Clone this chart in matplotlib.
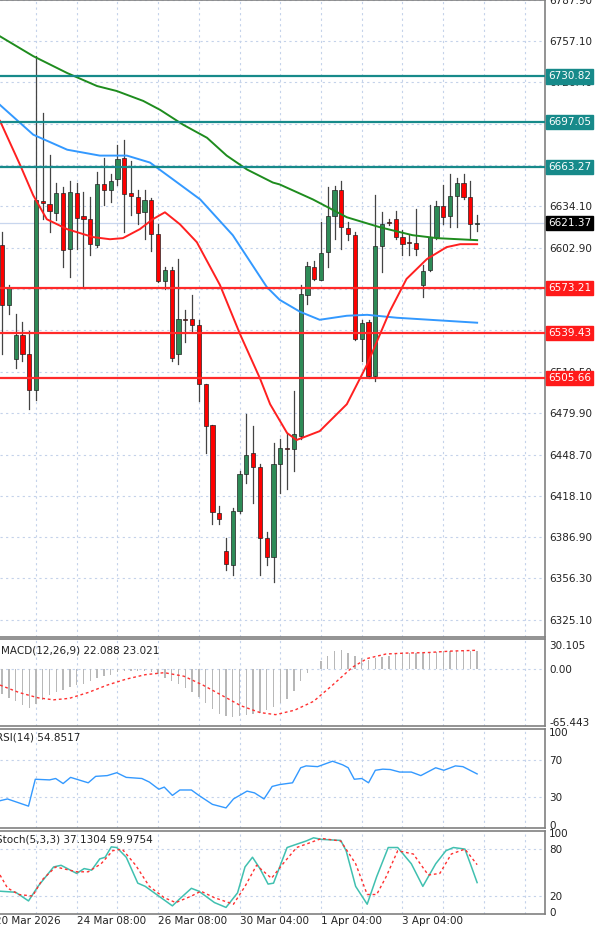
import numpy as np
import matplotlib
matplotlib.use("Agg")
import matplotlib.pyplot as plt
from matplotlib.transforms import blended_transform_factory

# ---------------------------------------------------------------------------
# DATA
# ---------------------------------------------------------------------------
opens = [6605.0, 6560.5, 6519.7, 6538.2, 6524.1, 6496.7, 6637.6, 6635.4, 6628.7, 6643.6,
         6602.0, 6643.6, 6626.5, 6624.3, 6605.0, 6650.3, 6646.5, 6654.7, 6670.3, 6643.6,
         6640.6, 6629.5, 6638.4, 6613.2, 6578.3, 6586.4, 6523.4, 6550.1, 6550.1, 6545.6,
         6501.1, 6470.7, 6405.4, 6376.5, 6366.1, 6406.9, 6434.3, 6449.9, 6439.5, 6386.8,
         6372.0, 6441.8, 6453.6, 6452.9, 6462.5, 6567.9, 6588.7, 6579.0, 6599.8, 6626.5,
         6645.8, 6617.6, 6612.4, 6535.2, 6547.9, 6507.0, 6604.3, 6622.1, 6624.3, 6610.9,
         6607.2, 6606.5, 6575.3, 6586.4, 6610.9, 6633.9, 6626.5, 6641.3, 6651.7, 6640.6,
         6620.6]
closes = [6560.5, 6573.8, 6538.2, 6523.4, 6496.7, 6638.4, 6636.2, 6630.2, 6643.6, 6601.3,
          6644.3, 6625.0, 6624.3, 6605.7, 6650.3, 6646.5, 6653.2, 6669.5, 6642.8, 6641.3,
          6628.7, 6638.4, 6613.2, 6578.3, 6586.4, 6521.1, 6550.1, 6549.3, 6545.6, 6501.1,
          6469.9, 6406.1, 6400.9, 6366.8, 6406.9, 6434.3, 6448.4, 6439.5, 6386.8, 6372.0,
          6441.8, 6453.6, 6452.9, 6464.0, 6568.6, 6589.4, 6579.8, 6599.1, 6626.5, 6645.8,
          6618.3, 6613.2, 6535.2, 6547.1, 6507.0, 6604.3, 6620.6, 6621.3, 6610.9, 6605.7,
          6606.5, 6602.0, 6585.7, 6610.9, 6633.9, 6625.8, 6641.3, 6651.7, 6640.6, 6620.6,
          6621.4]
highs = [6614.6, 6575.3, 6553.8, 6547.9, 6541.2, 6746.0, 6703.7, 6672.5, 6651.7, 6648.0,
         6652.5, 6651.7, 6644.3, 6640.6, 6659.2, 6670.3, 6657.7, 6679.9, 6683.6, 6668.1,
         6645.8, 6645.8, 6639.9, 6620.6, 6588.7, 6588.7, 6594.6, 6556.8, 6567.9, 6549.3,
         6501.1, 6470.7, 6410.6, 6386.1, 6409.1, 6436.6, 6478.9, 6469.9, 6441.8, 6391.3,
         6457.3, 6460.3, 6464.0, 6495.9, 6575.3, 6592.4, 6593.1, 6622.1, 6648.0, 6648.8,
         6652.5, 6622.1, 6614.6, 6549.3, 6549.3, 6642.1, 6629.5, 6624.3, 6630.2, 6616.1,
         6612.4, 6631.7, 6590.2, 6634.7, 6637.6, 6649.5, 6658.4, 6655.4, 6657.7, 6653.2,
         6627.3]
lows = [6523.4, 6553.8, 6513.0, 6518.2, 6482.6, 6489.2, 6624.3, 6614.6, 6623.5, 6588.7,
        6581.2, 6602.0, 6573.1, 6597.6, 6603.5, 6634.7, 6636.9, 6649.5, 6614.6, 6627.3,
        6620.6, 6609.4, 6600.5, 6577.5, 6572.3, 6518.9, 6516.0, 6533.0, 6540.4, 6488.5,
        6449.9, 6397.2, 6397.2, 6362.4, 6358.6, 6405.4, 6427.7, 6412.8, 6358.6, 6366.1,
        6353.5, 6420.2, 6423.2, 6436.6, 6460.3, 6561.2, 6579.0, 6579.0, 6588.7, 6609.4,
        6602.0, 6608.7, 6534.5, 6518.2, 6505.6, 6503.3, 6585.0, 6619.8, 6609.4, 6597.6,
        6597.6, 6597.6, 6566.4, 6585.7, 6609.4, 6620.6, 6618.3, 6618.3, 6639.1, 6609.4,
        6615.4]

# moving averages (bar position, price)
ma_red_x = [-0.3, 2.7, 4.6, 6.6, 9.6, 13.4, 15.9, 17.8, 20.3, 22.2, 24.0, 26.2, 28.7, 32.1,
            35.1, 38.0, 39.5, 42.0, 43.4, 44.9, 46.8, 50.8, 53.8, 57.1, 59.6, 62.6, 65.5, 67.5, 70.0]
ma_red_y = [6697.7, 6664.4, 6642.1, 6624.3, 6616.9, 6611.0, 6609.4, 6610.2, 6616.9, 6624.3,
            6629.5, 6620.6, 6607.2, 6575.3, 6538.2, 6505.6, 6486.3, 6464.8, 6459.6, 6462.5,
            6466.2, 6486.3, 6516.0, 6555.3, 6579.8, 6594.6, 6603.5, 6605.7, 6605.7]
ma_blue_x = [-0.3, 4.6, 9.6, 14.4, 18.4, 21.8, 25.2, 29.2, 34.0, 39.0, 40.9, 43.9, 46.8,
             50.8, 53.8, 58.2, 63.0, 70.0]
ma_blue_y = [6709.6, 6687.4, 6676.2, 6671.8, 6671.8, 6666.6, 6654.0, 6639.1, 6612.4, 6573.8,
             6564.2, 6555.3, 6549.3, 6552.3, 6553.0, 6550.8, 6549.3, 6547.1]
ma_green_x = [-0.3, 4.6, 9.6, 14.0, 16.9, 20.8, 23.3, 26.7, 30.2, 33.1, 36.1, 39.9, 40.9,
              45.8, 50.8, 55.7, 60.5, 64.1, 70.0]
ma_green_y = [6760.8, 6746.0, 6733.4, 6723.7, 6720.0, 6712.6, 6705.9, 6694.8, 6685.1, 6671.8,
              6661.4, 6651.7, 6650.3, 6639.1, 6625.8, 6618.3, 6612.4, 6610.2, 6608.7]

resistance = [6730.82, 6697.05, 6663.27]
support = [6573.21, 6539.43, 6505.66]
last_price = 6621.37
price_ticks = [6787.90, 6757.10, 6726.40, 6695.60, 6664.90, 6634.10, 6602.90, 6572.30,
               6541.70, 6510.50, 6479.90, 6448.70, 6418.10, 6386.90, 6356.30, 6325.10]

macd_hist = [-31.2, -36.0, -40.4, -44.8, -48.4, -43.3, -38.5, -33.0, -28.6, -26.4,
             -22.8, -20.6, -18.4, -15.4, -11.7, -9.5, -7.3, -4.4, -2.9, -2.2,
             -2.2, -2.9, -3.7, -5.9, -11.0, -14.7, -19.1, -24.2, -29.4, -34.9,
             -42.2, -49.5, -55.8, -58.7, -59.5, -58.7, -57.3, -55.8, -54.3, -51.4,
             -47.7, -42.2, -37.4, -27.5, -14.7, -5.5, 0.0, 9.2, 16.5, 22.0,
             23.9, 20.2, 16.5, 12.8, 11.0, 12.8, 14.7, 16.5, 18.4, 18.4,
             19.1, 19.1, 20.2, 20.2, 21.3, 22.0, 22.0, 22.0, 22.0, 22.0, 22.1]
macd_sig_x = [-0.3, 2.5, 5.3, 7.6, 9.9, 12.7, 15.5, 18.3, 21.1, 23.9, 26.8, 29.6, 32.4,
              35.2, 38.0, 40.3, 43.1, 45.9, 48.7, 51.6, 53.8, 56.6, 59.5, 62.8, 66.2, 70.0]
macd_sig_y = [-20.2, -29.4, -36.0, -38.5, -36.7, -29.4, -20.2, -12.8, -7.3, -4.8, -9.2,
              -20.2, -33.0, -45.9, -54.3, -56.9, -51.4, -40.4, -20.2, 1.8, 12.8, 18.4,
              19.5, 20.2, 22.0, 23.0]

rsi_x = [-0.3, 0.8, 3.9, 4.9, 7.0, 7.9, 9.0, 10.1, 12.7, 13.8, 15.5, 16.9, 18.3, 20.6, 21.7,
         23.1, 23.9, 25.1, 26.2, 27.9, 29.0, 31.0, 33.0, 34.1, 36.1, 37.2, 38.6, 39.8, 40.9,
         42.8, 44.0, 44.8, 46.5, 48.7, 50.2, 51.0, 51.9, 53.0, 54.0, 55.0, 56.1, 57.2, 58.6,
         60.3, 61.7, 63.9, 65.1, 66.8, 67.9, 70.0]
rsi_y = [26.2, 28.1, 20.4, 49.2, 48.5, 50.0, 44.6, 51.2, 45.4, 52.3, 53.1, 56.2, 51.2, 50.0,
         46.2, 38.5, 40.8, 31.9, 37.7, 37.7, 31.9, 22.3, 18.5, 28.1, 36.5, 34.6, 28.1, 41.5,
         43.5, 45.4, 61.5, 63.5, 62.7, 68.5, 64.6, 61.5, 49.2, 50.0, 45.4, 58.8, 60.0, 59.6,
         56.9, 56.9, 53.1, 61.5, 58.8, 63.5, 62.7, 54.9]

stoch_k_x = [-0.3, 2.0, 3.9, 5.3, 7.6, 8.7, 11.0, 12.1, 13.2, 14.4, 15.2, 16.1, 16.9, 18.3,
             20.0, 21.1, 25.1, 26.2, 27.9, 29.0, 31.3, 33.0, 34.7, 35.8, 36.9, 38.0, 39.2,
             40.0, 42.0, 43.4, 44.8, 45.9, 47.1, 49.9, 50.7, 52.1, 53.8, 55.2, 56.9, 58.3,
             60.3, 62.0, 63.9, 65.4, 66.5, 68.2, 69.0, 70.0]
stoch_k_y = [26.1, 24.8, 13.7, 32.3, 57.1, 59.2, 48.8, 55.0, 53.0, 67.4, 69.5, 82.7, 81.9,
             69.5, 36.4, 32.3, 7.4, 16.5, 29.8, 26.1, 11.6, 5.4, 24.0, 57.1, 69.5, 55.0, 35.2,
             36.4, 81.9, 86.1, 90.2, 94.3, 92.3, 91.0, 77.8, 32.3, 9.5, 44.7, 81.9, 81.9,
             61.2, 32.3, 61.2, 77.8, 81.9, 79.9, 61.2, 37.1]
stoch_d_x = [-0.3, 0.8, 2.5, 4.5, 5.9, 7.9, 11.0, 12.7, 14.6, 16.3, 17.7, 19.7, 21.7, 23.9,
             25.6, 27.9, 29.3, 31.3, 34.1, 35.8, 37.5, 39.7, 41.4, 43.4, 45.4, 47.1, 49.9,
             52.1, 53.8, 55.2, 56.6, 58.3, 60.6, 62.8, 64.5, 66.2, 68.2, 70.0]
stoch_d_y = [46.8, 30.2, 21.9, 19.9, 40.5, 57.1, 50.9, 50.9, 61.2, 77.8, 79.9, 59.2, 32.3,
             17.8, 11.6, 19.9, 26.1, 17.8, 9.5, 32.3, 59.2, 42.6, 61.2, 81.9, 88.1, 93.5,
             90.2, 61.2, 21.9, 21.9, 44.7, 77.8, 73.6, 46.8, 48.8, 73.6, 79.9, 60.0]

date_pos = [-1, 11, 23, 35, 47, 59]
date_labels = ["20 Mar 2026", "24 Mar 08:00", "26 Mar 08:00", "30 Mar 04:00",
               "1 Apr 04:00", "3 Apr 04:00"]

# ---------------------------------------------------------------------------
# STYLE
# ---------------------------------------------------------------------------
W, H = 600, 930
BULL = '#2e8b57'
BEAR = '#ff0000'
TEAL = '#178a8a'
GRID = '#c4d2ea'
FS = 7.5
plt.rcParams['font.family'] = ['DejaVu Sans']

fig = plt.figure(figsize=(W / 100, H / 100), dpi=100, facecolor='white')


def panel(top, bottom):
    return fig.add_axes([0, (H - bottom) / H, 545 / W, (bottom - top) / H])


ax = panel(0, 637)
ax_macd = panel(639, 726)
ax_rsi = panel(729, 828)
ax_sto = panel(831, 914)

XMIN, XMAX = -0.3, 80.0
vgrid = np.arange(5, 80, 6)

for a in (ax, ax_macd, ax_rsi, ax_sto):
    a.set_xlim(XMIN, XMAX)
    a.set_xticks([])
    a.yaxis.tick_right()
    a.tick_params(axis='y', length=0, labelsize=FS, pad=3, colors='#222222')
    for v in vgrid:
        a.axvline(v, color=GRID, lw=0.8, ls=(0, (2, 3)), zorder=0)
    for s in a.spines.values():
        s.set_color('#808080')
        s.set_linewidth(1.2)
    a.spines['left'].set_visible(False)

# ---- main price panel -----------------------------------------------------
ax.set_ylim(6312.6, 6785.3)
ax.set_yticks(price_ticks)
ax.set_yticklabels([f"{t:.2f}" for t in price_ticks])
for t in price_ticks:
    ax.axhline(t, color=GRID, lw=0.8, ls=(0, (2, 3)), zorder=0)

x = np.arange(len(opens))
for i in x:
    o, c, h, l = opens[i], closes[i], highs[i], lows[i]
    ax.plot([i, i], [l, h], color='#444444', lw=0.9, zorder=2)
    col = BULL if c >= o else BEAR
    body = max(abs(c - o), 0.6)
    ax.bar(i, body, bottom=min(o, c), width=0.62, color=col,
           edgecolor='#222222', linewidth=0.5, zorder=3)

ax.axhline(last_price, color='#c8d6ee', lw=0.9, zorder=1)
ax.plot(ma_green_x, ma_green_y, color='#1e8c1e', lw=1.4, zorder=4)
ax.plot(ma_blue_x, ma_blue_y, color='#3399ff', lw=1.4, zorder=4)
ax.plot(ma_red_x, ma_red_y, color='#ff2020', lw=1.4, zorder=4)

for lv in resistance:
    ax.axhline(lv, color=TEAL, lw=1.6, zorder=5)
for lv in support:
    ax.axhline(lv, color='#ff2a2a', lw=1.6, zorder=5)

tr = blended_transform_factory(ax.transAxes, ax.transData)
for lv in resistance:
    ax.text(1.006, lv, f"{lv:.2f}", transform=tr, fontsize=FS, color='white',
            va='center', ha='left', clip_on=False, zorder=10,
            bbox=dict(boxstyle='square,pad=0.2', fc=TEAL, ec=TEAL))
for lv in support:
    ax.text(1.006, lv, f"{lv:.2f}", transform=tr, fontsize=FS, color='white',
            va='center', ha='left', clip_on=False, zorder=10,
            bbox=dict(boxstyle='square,pad=0.2', fc='#ff1a1a', ec='#ff1a1a'))
ax.text(1.006, last_price, f"{last_price:.2f}", transform=tr, fontsize=FS,
        color='white', va='center', ha='left', clip_on=False, zorder=10,
        bbox=dict(boxstyle='square,pad=0.2', fc='black', ec='black'))

# ---- MACD ------------------------------------------------------------------
ax_macd.set_ylim(-71, 37)
ax_macd.set_yticks([30.105, 0.0, -65.443])
ax_macd.set_yticklabels(["30.105", "0.00", "-65.443"])
ax_macd.axhline(0, color=GRID, lw=0.8, ls=(0, (2, 3)), zorder=0)
ax_macd.bar(x, macd_hist, width=0.2, color='#b8b8b8', zorder=2)
ax_macd.plot(macd_sig_x, macd_sig_y, color='#ff3030', lw=1.0, ls=(0, (2, 2)), zorder=3)
ax_macd.text(0.002, 0.93, "MACD(12,26,9) 22.088 23.021", transform=ax_macd.transAxes,
             fontsize=FS, va='top', ha='left', color='#222222')

# ---- RSI -------------------------------------------------------------------
ax_rsi.set_ylim(-3, 103)
ax_rsi.set_yticks([100, 70, 30, 0])
for t in (70, 30):
    ax_rsi.axhline(t, color=GRID, lw=0.8, ls=(0, (2, 3)), zorder=0)
ax_rsi.plot(rsi_x, rsi_y, color='#3399ff', lw=1.0, zorder=3)
ax_rsi.text(-0.008, 0.96, "RSI(14) 54.8517", transform=ax_rsi.transAxes,
            fontsize=FS, va='top', ha='left', color='#222222')

# ---- Stochastic -------------------------------------------------------------
ax_sto.set_ylim(-3, 103)
ax_sto.set_yticks([100, 80, 20, 0])
for t in (80, 20):
    ax_sto.axhline(t, color=GRID, lw=0.8, ls=(0, (2, 3)), zorder=0)
ax_sto.plot(stoch_k_x, stoch_k_y, color='#40c0b0', lw=1.1, zorder=3)
ax_sto.plot(stoch_d_x, stoch_d_y, color='#ff3030', lw=1.0, ls=(0, (2, 2)), zorder=3)
ax_sto.text(-0.008, 0.96, "Stoch(5,3,3) 37.1304 59.9754", transform=ax_sto.transAxes,
            fontsize=FS, va='top', ha='left', color='#222222')

for p, lab in zip(date_pos, date_labels):
    ax_sto.text(p, -0.03, lab, transform=blended_transform_factory(ax_sto.transData, ax_sto.transAxes),
                fontsize=FS, va='top', ha='left', color='#222222', clip_on=False)

fig.savefig("out.png", dpi=100, facecolor='white')
